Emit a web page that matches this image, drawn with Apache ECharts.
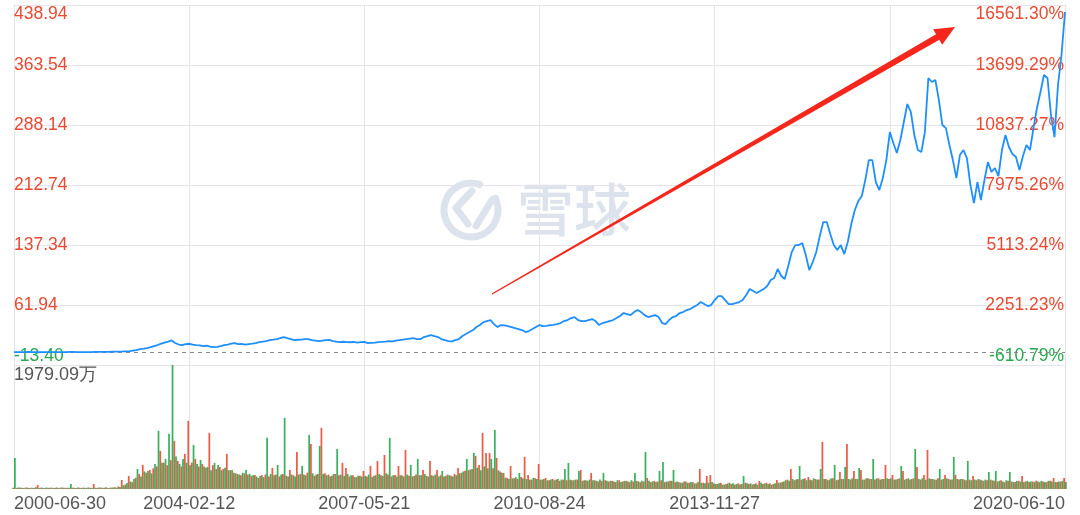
<!DOCTYPE html>
<html><head><meta charset="utf-8">
<script src="https://cdn.jsdelivr.net/npm/echarts@6/dist/echarts.min.js"></script>
<style>html,body{margin:0;padding:0;background:#fff}#c{width:1080px;height:515px}</style>
</head><body><div id="c"></div>
<script>
// ---- tick labels ----
const dateLabels = ['2000-06-30','2004-02-12','2007-05-21','2010-08-24','2013-11-27','','2020-06-10'];
const priceTicks = ['-13.40','61.94','137.34','212.74','288.14','363.54','438.94'];
const pctTicks = ['-610.79%','2251.23%','5113.24%','7975.26%','10837.27%','13699.29%','16561.30%'];
const priceMin = -13.40, priceMax = 438.94;
const basePrice = 2.634;
const volMax = 1979.09;
const volMaxLabel = '1979.09万';

// ---- price (301 samples, first to last trading day) ----
const price = [
2.7,2.8,2.7,2.9,3.0,2.8,2.7,2.6,2.7,2.8,
2.9,2.8,2.7,2.7,2.8,2.9,3.1,3.0,2.9,2.8,
2.7,2.8,2.9,3.0,3.0,3.1,3.2,3.1,3.3,3.4,
3.5,3.6,3.8,4.1,4.8,5.4,6.6,7.2,7.9,9.1,
10.4,11.7,13.5,14.8,16.0,17.5,14.2,12.3,11.7,12.9,
13.3,12.3,11.7,11.2,10.4,10.8,9.8,9.1,9.5,10.4,
11.7,12.3,13.5,14.2,12.9,13.2,12.3,12.9,13.5,14.2,
15.4,16.0,16.7,17.9,18.5,19.2,20.4,21.7,20.4,19.2,
17.9,18.3,18.5,19.2,19.0,17.9,17.3,16.7,17.3,17.9,
18.2,16.7,16.0,15.4,15.8,15.4,15.2,15.6,14.8,15.4,
15.6,14.2,14.5,14.8,15.4,15.6,16.0,16.7,16.4,17.3,
17.9,18.5,19.2,19.8,20.4,19.2,19.0,21.7,23.0,24.2,
23.0,21.7,19.2,17.9,16.7,16.4,17.9,19.2,23.0,25.5,
28.0,30.5,34.3,36.8,40.5,41.8,43.1,38.0,34.3,36.8,
36.5,35.5,34.3,33.0,31.8,30.5,28.0,29.3,31.8,34.3,
36.8,35.5,35.8,36.8,37.1,38.0,39.3,41.8,43.1,45.6,
46.8,43.1,41.8,41.8,43.1,44.3,41.8,36.8,39.3,40.5,
41.8,43.1,45.6,48.1,51.9,50.6,49.3,53.1,55.6,53.1,
49.3,46.8,48.1,49.3,46.8,39.3,38.0,43.1,46.8,48.1,
51.9,53.1,55.6,56.9,59.4,61.9,65.7,63.2,60.7,61.9,
68.2,73.2,73.2,68.2,63.2,63.2,64.4,65.7,68.2,74.5,
82.0,79.5,77.0,79.5,82.0,85.8,93.4,95.9,107.2,98.4,
94.6,110.9,128.5,137.3,137.3,139.8,124.8,105.9,116.0,128.5,
148.6,166.2,166.2,151.1,137.3,131.0,137.3,126.0,141.1,163.7,
181.3,192.6,198.9,219.0,244.1,244.1,216.5,206.4,221.5,244.1,
279.3,265.5,252.9,269.3,291.9,314.5,304.5,275.6,256.7,254.2,
279.3,347.2,342.2,344.7,319.5,288.1,284.3,263.0,244.1,221.5,
250.4,256.7,246.6,212.7,190.1,216.5,193.9,219.0,241.6,229.1,
234.1,224.0,256.7,275.6,260.5,251.7,247.9,231.6,249.2,263.0,
256.7,284.3,309.5,329.6,351.0,347.2,300.7,273.0,338.4,376.1,
430.1
];

// ---- volume (万), up days (red) and down days (green) ----
const volUp = [
20,18,22,16,24,20,18,64,22,16,
18,22,20,16,24,18,20,22,16,20,
22,18,20,80,18,24,20,16,22,28,
40,144,70,208,110,180,240,384,260,304,
330,360,608,420,380,460,768,448,360,560,
1088,420,480,360,400,340,896,380,320,352,
320,560,300,260,240,220,250,230,210,224,
176,220,230,200,336,230,200,240,210,304,
220,592,240,230,260,720,210,240,976,250,
230,210,240,220,416,336,200,220,190,210,
288,200,368,210,448,220,544,230,200,224,
368,220,624,210,200,230,220,304,210,448,
210,304,220,200,230,210,240,336,260,290,
300,320,528,384,896,576,576,330,496,280,
256,180,368,170,160,190,512,224,150,170,
400,150,176,140,160,150,130,150,140,150,
140,150,304,140,130,256,140,120,130,140,
120,130,110,140,120,130,110,120,130,110,
120,176,110,130,120,140,110,120,130,110,
110,100,120,100,110,90,320,100,208,224,
90,80,100,70,90,80,70,90,80,100,
80,70,90,128,80,100,90,80,144,100,
120,150,320,140,160,150,170,192,140,160,
150,752,160,150,170,140,272,160,720,150,
288,160,304,150,170,160,150,170,160,384,
160,224,150,170,288,160,150,170,352,150,
224,624,160,150,170,150,224,160,150,224,
150,160,140,150,208,140,150,130,140,150,
130,120,140,110,130,120,110,130,208,120,
110,120,130,110,120,110,130,176,110,120,
176
];
const volDown = [
496,24,18,22,16,20,26,18,20,24,
20,16,24,22,18,20,80,18,22,16,
18,24,16,20,22,18,26,20,24,22,
30,60,96,120,160,320,200,280,288,250,
400,928,420,480,880,1979,520,400,480,420,
380,704,400,464,360,352,300,416,384,300,
340,300,304,250,230,260,304,240,220,200,
210,190,816,240,220,384,230,1136,200,230,
200,230,368,220,864,250,230,688,240,220,
200,240,640,230,210,240,220,190,210,200,
210,230,190,220,240,210,250,816,220,200,
220,200,230,384,210,480,220,240,200,220,
230,200,288,210,220,200,220,250,280,480,
310,576,340,300,360,330,480,944,300,260,
180,160,170,190,256,170,160,150,180,160,
150,160,140,150,140,160,150,320,416,140,
150,288,130,140,150,140,130,150,256,130,
130,120,140,110,130,120,140,256,120,130,
592,130,120,110,288,432,120,130,304,120,
100,120,100,110,90,110,100,90,100,110,
80,90,70,80,100,90,80,70,208,90,
90,80,70,100,90,80,70,90,100,110,
140,130,160,150,368,160,140,150,170,150,
320,160,140,170,384,150,160,352,160,170,
160,336,150,170,160,480,170,150,160,170,
170,150,160,368,150,170,160,640,160,170,
150,170,160,150,320,160,170,150,512,160,
160,150,448,140,150,160,140,150,272,140,
288,130,120,140,272,110,130,120,110,130,
120,110,120,130,110,130,120,110,120,130,
110
];

const RED = '#e84a32', GREEN = '#26a84e', GRID = '#e4e4ea';
const FONT = '"Liberation Sans", Arial, sans-serif';

// arrow polygon (annotation)
function arrowPoints(tail, tip, tailHalf, bodyHalf, headLen, headHalf) {
  const dx = tip[0]-tail[0], dy = tip[1]-tail[1];
  const L = Math.hypot(dx, dy), ux = dx/L, uy = dy/L, nx = -uy, ny = ux;
  const hb = [tip[0]-ux*headLen, tip[1]-uy*headLen];
  return [
    [tail[0]+nx*tailHalf, tail[1]+ny*tailHalf],
    [hb[0]+nx*bodyHalf, hb[1]+ny*bodyHalf],
    [hb[0]+nx*headHalf, hb[1]+ny*headHalf],
    tip,
    [hb[0]-nx*headHalf, hb[1]-ny*headHalf],
    [hb[0]-nx*bodyHalf, hb[1]-ny*bodyHalf],
    [tail[0]-nx*tailHalf, tail[1]-ny*tailHalf]
  ];
}

const chart = echarts.init(document.getElementById('c'), null, {renderer: 'canvas'});
const WM = '#dde3ec';
const tickColor = v => (Number(v) === 0 ? GREEN : RED);

chart.setOption({
  animation: false,
  backgroundColor: '#fff',
  grid: [
    {left: 14, right: 15, top: 5, height: 360},
    {left: 14, right: 15, top: 365, bottom: 26}
  ],
  xAxis: [
    {type: 'value', gridIndex: 0, min: 0, max: 300, interval: 50,
     axisLine: {show: false}, axisTick: {show: false}, axisLabel: {show: false},
     splitLine: {show: true, lineStyle: {color: GRID, width: 1}}},
    {type: 'value', gridIndex: 1, min: 0, max: 300, interval: 50,
     axisLine: {show: false}, axisTick: {show: false},
     splitLine: {show: true, lineStyle: {color: GRID, width: 1}},
     axisLabel: {show: true, color: '#555', fontSize: 18, fontFamily: FONT, margin: 6,
       alignMinLabel: 'left', alignMaxLabel: 'right',
       formatter: v => dateLabels[Math.round(v / 50)] || ''}}
  ],
  yAxis: [
    {type: 'value', gridIndex: 0, position: 'left', min: 0, max: 6, interval: 1,
     axisLine: {show: false}, axisTick: {show: false},
     splitLine: {show: true, lineStyle: {color: GRID, width: 1}},
     axisLabel: {inside: true, margin: 0, fontSize: 17.5, fontFamily: FONT, color: tickColor,
       verticalAlignMaxLabel: 'top', verticalAlignMinLabel: 'bottom',
       formatter: v => priceTicks[Math.round(v)]}},
    {type: 'value', gridIndex: 0, position: 'right', min: 0, max: 6, interval: 1,
     axisLine: {show: false}, axisTick: {show: false}, splitLine: {show: false},
     axisLabel: {inside: true, margin: 1, fontSize: 17.5, fontFamily: FONT, color: tickColor,
       verticalAlignMaxLabel: 'top', verticalAlignMinLabel: 'bottom',
       formatter: v => pctTicks[Math.round(v)]}},
    {type: 'value', gridIndex: 0, min: priceMin, max: priceMax, show: false,
     splitLine: {show: false}},
    {type: 'value', gridIndex: 1, min: 0, max: volMax, show: false,
     splitLine: {show: false}}
  ],
  series: [
    {type: 'bar', xAxisIndex: 1, yAxisIndex: 3, barWidth: 1.75, barGap: '0%',
     itemStyle: {color: RED, opacity: 0.9}, data: volUp.map((v, i) => [i, v])},
    {type: 'bar', xAxisIndex: 1, yAxisIndex: 3, barWidth: 1.75, barGap: '0%',
     itemStyle: {color: GREEN, opacity: 0.9}, data: volDown.map((v, i) => [i, v])},
    {type: 'line', xAxisIndex: 0, yAxisIndex: 2, showSymbol: false, symbol: 'none', z: 5,
     lineStyle: {color: '#1e8fff', width: 1.8},
     data: price.map((v, i) => [i, v]),
     markLine: {silent: true, symbol: 'none', label: {show: false},
       lineStyle: {type: [4, 4], color: '#888', width: 1},
       data: [{yAxis: basePrice}]}}
  ],
  graphic: [
    {type: 'arc', z: 0, shape: {cx: 471, cy: 210, r: 27, startAngle: -0.45, endAngle: 2 * Math.PI - 1.25, clockwise: true},
     style: {stroke: WM, lineWidth: 7, fill: null, lineCap: 'round'}},
    {type: 'polyline', z: 0, shape: {points: [[472, 191], [456, 208], [468, 224]]},
     style: {stroke: WM, lineWidth: 7, fill: null, lineCap: 'round', lineJoin: 'round'}},
    {type: 'polyline', z: 0, shape: {points: [[476, 226], [492, 200]]},
     style: {stroke: WM, lineWidth: 7, fill: null, lineCap: 'round'}},
    {type: 'text', z: 0, x: 517, y: 209,
     style: {text: '雪球', fill: WM, font: '500 57px "Noto Sans CJK SC"', verticalAlign: 'middle', textAlign: 'left'}},
    {type: 'polygon', z: 20,
     shape: {points: arrowPoints([492, 294], [955, 27], 0.6, 3.3, 20, 9)},
     style: {fill: '#f5261b'}},
    {type: 'text', z: 20, x: 14, y: 366,
     style: {text: volMaxLabel, fill: '#555', font: '18px ' + FONT, textAlign: 'left', verticalAlign: 'top'}}
  ]
});
</script>
</body></html>
